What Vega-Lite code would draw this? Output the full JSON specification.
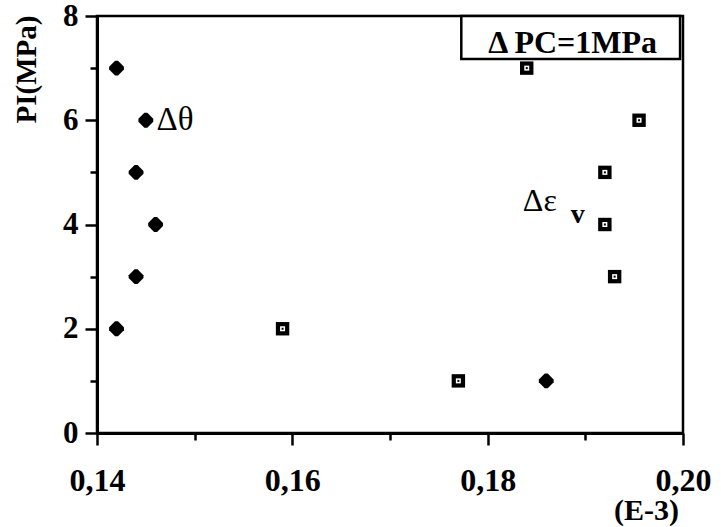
{
  "$schema": "https://vega.github.io/schema/vega-lite/v6.json",
  "width": 586,
  "height": 417,
  "autosize": {"type": "none"},
  "padding": {"left": 97, "top": 16, "right": 38, "bottom": 94},
  "background": "white",
  "config": {
    "view": {"stroke": "black", "strokeWidth": 2.5},
    "font": "Liberation Serif"
  },
  "datasets": {
    "pts": [
      {"series": "theta", "x": 0.142, "y": 7},
      {"series": "theta", "x": 0.145, "y": 6},
      {"series": "theta", "x": 0.144, "y": 5},
      {"series": "theta", "x": 0.146, "y": 4},
      {"series": "theta", "x": 0.144, "y": 3},
      {"series": "theta", "x": 0.142, "y": 2},
      {"series": "theta", "x": 0.186, "y": 1},
      {"series": "eps", "x": 0.184, "y": 7},
      {"series": "eps", "x": 0.1955, "y": 6},
      {"series": "eps", "x": 0.192, "y": 5},
      {"series": "eps", "x": 0.192, "y": 4},
      {"series": "eps", "x": 0.193, "y": 3},
      {"series": "eps", "x": 0.159, "y": 2},
      {"series": "eps", "x": 0.177, "y": 1}
    ],
    "box": [{"x": 0.1773, "x2": 0.1997, "y": 8, "y2": 7.175, "label": "Δ PC=1MPa", "tx": 0.1887, "ty": 7.49}],
    "notes": [
      {"x": 0.1461, "y": 6.0, "label": "Δθ"},
      {"x": 0.1836, "y": 4.45, "label": "Δε"},
      {"x": 0.1885, "y": 4.18, "label": "v"}
    ]
  },
  "layer": [
    {
      "data": {"name": "pts"},
      "transform": [{"filter": "datum.series === 'theta'"}],
      "mark": {"type": "point", "shape": "M-1,-0.2L-0.2,-1L0.2,-1L1,-0.2L1,0.2L0.2,1L-0.2,1L-1,0.2Z", "filled": true, "color": "black", "opacity": 1, "size": 220},
      "encoding": {
        "x": {
          "field": "x", "type": "quantitative",
          "scale": {"domain": [0.14, 0.2], "nice": false, "zero": false},
          "axis": {
            "title": "(E-3)",
            "titleFont": "Liberation Serif", "titleFontSize": 30, "titleFontWeight": "bold", "titleColor": "black",
            "titleX": 549, "titleY": 77, "titleAlign": "center", "titleBaseline": "middle",
            "values": [0.14, 0.15, 0.16, 0.17, 0.18, 0.19, 0.2],
            "labelExpr": "round(datum.value*100) % 2 == 0 ? replace(format(datum.value, '.2f'), '.', ',') : ''",
            "labelFont": "Liberation Serif", "labelFontSize": 32, "labelFontWeight": "bold", "labelColor": "black",
            "labelPadding": 20, "labelFlush": false, "labelOverlap": false,
            "tickSize": {"condition": {"test": "round(datum.value*100) % 2 == 0", "value": 12}, "value": 7},
            "tickColor": "black", "tickWidth": 2.5,
            "domainColor": "black", "domainWidth": 3, "grid": false
          }
        },
        "y": {
          "field": "y", "type": "quantitative",
          "scale": {"domain": [0, 8], "nice": false},
          "axis": {
            "title": "PI(MPa)",
            "titleFont": "Liberation Serif", "titleFontSize": 29, "titleFontWeight": "bold", "titleColor": "black",
            "titleX": -71, "titleY": 53, "titleAngle": -90, "titleAlign": "center", "titleBaseline": "middle",
            "values": [0, 1, 2, 3, 4, 5, 6, 7, 8],
            "labelExpr": "datum.value % 2 == 0 ? datum.value : ''",
            "labelFont": "Liberation Serif", "labelFontSize": 31, "labelFontWeight": "bold", "labelColor": "black",
            "labelPadding": 7, "labelFlush": false, "labelOverlap": false,
            "tickSize": {"condition": {"test": "datum.value % 2 == 0", "value": 12}, "value": 7},
            "tickColor": "black", "tickWidth": 2.5,
            "domainColor": "black", "domainWidth": 3, "grid": false
          }
        }
      }
    },
    {
      "data": {"name": "pts"},
      "transform": [{"filter": "datum.series === 'eps'"}],
      "mark": {"type": "point", "shape": "square", "filled": true, "color": "black", "opacity": 1, "size": 180},
      "encoding": {
        "x": {"field": "x", "type": "quantitative"},
        "y": {"field": "y", "type": "quantitative"}
      }
    },
    {
      "data": {"name": "pts"},
      "transform": [{"filter": "datum.series === 'eps'"}],
      "mark": {"type": "point", "shape": "square", "filled": true, "color": "white", "opacity": 1, "size": 25},
      "encoding": {
        "x": {"field": "x", "type": "quantitative"},
        "y": {"field": "y", "type": "quantitative"}
      }
    },
    {
      "data": {"name": "pts"},
      "transform": [{"filter": "datum.series === 'eps'"}],
      "mark": {"type": "point", "shape": "square", "filled": true, "color": "black", "opacity": 1, "size": 4},
      "encoding": {
        "x": {"field": "x", "type": "quantitative"},
        "y": {"field": "y", "type": "quantitative"}
      }
    },
    {
      "data": {"name": "box"},
      "mark": {"type": "rect", "fill": "white", "stroke": "black", "strokeWidth": 2.5},
      "encoding": {
        "x": {"field": "x", "type": "quantitative"},
        "x2": {"field": "x2"},
        "y": {"field": "y", "type": "quantitative"},
        "y2": {"field": "y2"}
      }
    },
    {
      "data": {"name": "box"},
      "mark": {"type": "text", "font": "Liberation Serif", "fontSize": 32, "fontWeight": "bold", "color": "black", "align": "center", "baseline": "middle"},
      "encoding": {
        "x": {"field": "tx", "type": "quantitative"},
        "y": {"field": "ty", "type": "quantitative"},
        "text": {"field": "label"}
      }
    },
    {
      "data": {"name": "notes"},
      "transform": [{"filter": "datum.label === 'Δθ'"}],
      "mark": {"type": "text", "font": "Liberation Serif", "fontSize": 33, "color": "black", "align": "left", "baseline": "middle"},
      "encoding": {
        "x": {"field": "x", "type": "quantitative"},
        "y": {"field": "y", "type": "quantitative"},
        "text": {"field": "label"}
      }
    },
    {
      "data": {"name": "notes"},
      "transform": [{"filter": "datum.label === 'Δε'"}],
      "mark": {"type": "text", "font": "Liberation Serif", "fontSize": 32, "color": "black", "align": "left", "baseline": "middle"},
      "encoding": {
        "x": {"field": "x", "type": "quantitative"},
        "y": {"field": "y", "type": "quantitative"},
        "text": {"field": "label"}
      }
    },
    {
      "data": {"name": "notes"},
      "transform": [{"filter": "datum.label === 'v'"}],
      "mark": {"type": "text", "font": "Liberation Serif", "fontSize": 28, "fontWeight": "bold", "color": "black", "align": "left", "baseline": "middle"},
      "encoding": {
        "x": {"field": "x", "type": "quantitative"},
        "y": {"field": "y", "type": "quantitative"},
        "text": {"field": "label"}
      }
    }
  ]
}
